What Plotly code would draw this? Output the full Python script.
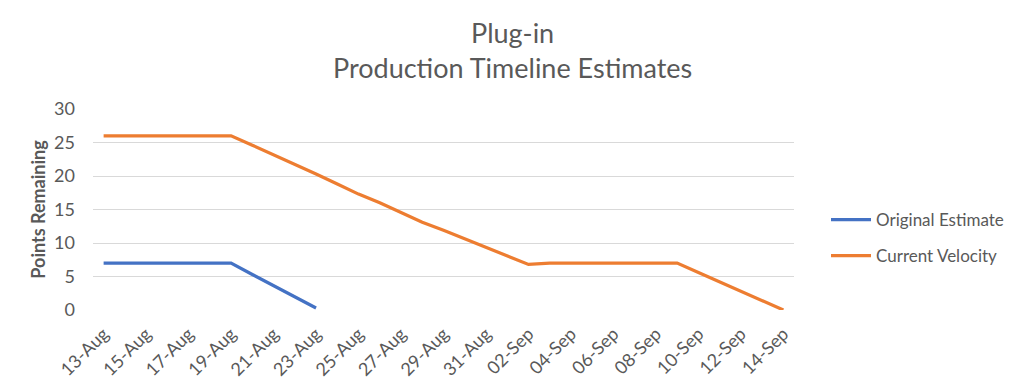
import plotly.graph_objects as go
import pandas as pd

dates = pd.date_range("2018-08-13", "2018-09-14", freq="D")
original_estimate = [7, 7, 7, 7, 7, 7, 7, 5.3, 3.65, 1.98, 0.3] + [None] * 22
current_velocity = [26, 26, 26, 26, 26, 26, 26, 24.6, 23.2, 21.8, 20.3, 18.8, 17.3, 16.0,
                    14.6, 13.1, 11.9, 10.6, 9.3, 8.0, 6.8, 7.0, 7.0, 7.0, 7.0, 7.0, 7.0,
                    7.0, 5.6, 4.2, 2.8, 1.4, 0]
tick_dates = pd.date_range("2018-08-13", "2018-09-14", freq="2D")
title_lines = ["Plug-in", "Production Timeline Estimates"]

FONT = "Lato"
GREY = "#595959"
OFF = 8  # default body margin of the html page
W, H = 1024 - OFF, 389 - OFF
L, R, T, B = 93 - OFF, 1024 - 794, 109 - OFF, 389 - 310
PH = H - T - B

fig = go.Figure()
fig.add_trace(go.Scatter(x=dates, y=original_estimate, mode="lines", name="Original Estimate",
                         line=dict(color="#4472C4", width=3.2), legendgroup="a"))
fig.add_trace(go.Scatter(x=dates, y=current_velocity, mode="lines", name="Current Velocity",
                         line=dict(color="#ED7D31", width=3.2), legendgroup="b"))

PW = W - L - R
fig.update_layout(
    width=W, height=H,
    margin=dict(l=L, r=R, t=T, b=B, autoexpand=False),
    paper_bgcolor="white", plot_bgcolor="white",
    font=dict(family=FONT, color=GREY, size=14),
    showlegend=True,
    legend=dict(x=(830 - 4 - 93) / PW, y=(310 - 238) / PH, xanchor="left", yanchor="middle",
                font=dict(size=17, color=GREY, family=FONT),
                traceorder="grouped", tracegroupgap=11, itemwidth=40),
    annotations=[
        dict(text=title_lines[0], x=(512 - 93) / PW, xref="paper", xanchor="center",
             y=(310 - 32) / PH, yref="paper", yanchor="middle", showarrow=False,
             font=dict(size=27, color=GREY, family=FONT)),
        dict(text=title_lines[1], x=(512 - 93) / PW, xref="paper", xanchor="center",
             y=(310 - 68) / PH, yref="paper", yanchor="middle", showarrow=False,
             font=dict(size=27, color=GREY, family=FONT)),
    ],
)

fig.update_xaxes(
    type="date", automargin=False,
    range=[pd.Timestamp("2018-08-12 12:00"), pd.Timestamp("2018-09-14 12:00")],
    tickvals=tick_dates, ticktext=[d.strftime("%d-%b") for d in tick_dates],
    tickangle=-45, showgrid=False, showline=False, zeroline=False, ticklabelstandoff=9,
    tickfont=dict(size=18, color=GREY, family=FONT), ticks="",
)
fig.update_yaxes(
    range=[0, 30], dtick=5, showgrid=True, gridcolor="#D9D9D9", gridwidth=1,
    zeroline=False, showline=False, automargin=False, ticklabelstandoff=17,
    tickfont=dict(size=18, color=GREY, family=FONT),
    title=dict(text="<b>Points Remaining</b>", font=dict(size=18, color=GREY, family=FONT), standoff=3),
)

fig.write_html("out.html")
